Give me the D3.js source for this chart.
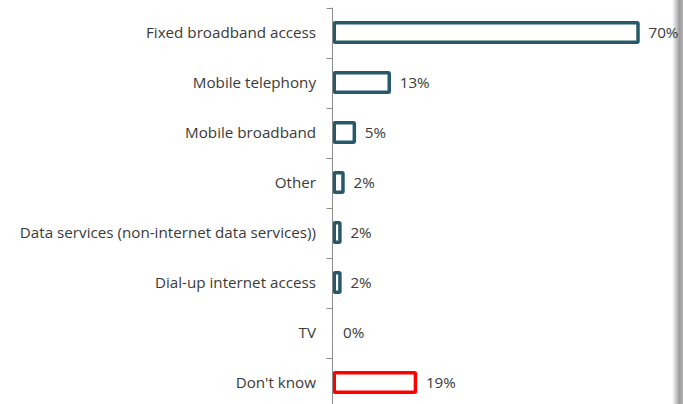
<!DOCTYPE html>
<html>
<head>
<meta charset="utf-8">
<script src="https://cdn.jsdelivr.net/npm/d3@7"></script>
<style>
  html, body { margin: 0; padding: 0; background: #fff; }
  svg { display: block; }
  text { font-family: "Open Sans", sans-serif; fill: #3a3a3a; }
</style>
</head>
<body>
<svg id="chart" width="683" height="404"></svg>
<script>
const categories = [
  "Fixed broadband access",
  "Mobile telephony",
  "Mobile broadband",
  "Other",
  "Data services (non-internet data services))",
  "Dial-up internet access",
  "TV",
  "Don't know"
];
const values = [70, 13, 5, 2.4, 1.7, 1.7, 0, 19];
const valueLabels = ["70%", "13%", "5%", "2%", "2%", "2%", "0%", "19%"];
const barColors = ["#27596A", "#27596A", "#27596A", "#27596A", "#27596A", "#27596A", "#27596A", "#FF0000"];

const W = 683, H = 404;
const axisX = 332.5;
const svg = d3.select("#chart");

const defs = svg.append("defs");
const grad = defs.append("linearGradient").attr("id", "edge").attr("x1", 0).attr("x2", 1).attr("y1", 0).attr("y2", 0);
grad.append("stop").attr("offset", "0%").attr("stop-color", "#fff");
grad.append("stop").attr("offset", "70%").attr("stop-color", "#9a9a9a");
grad.append("stop").attr("offset", "100%").attr("stop-color", "#b5b5b5");

// right edge shadow (beneath the labels)
svg.append("rect").attr("x", 672).attr("y", 0).attr("width", 11).attr("height", H).attr("fill", "url(#edge)");

const x = d3.scaleLinear().domain([0, 70]).range([axisX, axisX + 305.5]);
const yb = d3.scaleBand().domain(categories).range([7.5, 407.5]);

const data = categories.map((c, i) => ({ c, v: values[i], lab: valueLabels[i], col: barColors[i] }));

// bars
svg.append("g").selectAll("rect").data(data.filter(d => d.v > 0)).join("rect")
  .attr("x", x(0) + 1.75)
  .attr("y", d => yb(d.c) + yb.bandwidth() / 2 - 9.75)
  .attr("width", d => Math.max(0.5, x(d.v) - x(0) - 1.75))
  .attr("height", 19.5)
  .attr("fill", "#fff")
  .attr("stroke", d => d.col)
  .attr("stroke-width", 3.5)
  .attr("rx", 1);

// axis
const axis = d3.axisLeft(yb).tickSize(0).tickFormat("");
const gAxis = svg.append("g").attr("transform", `translate(${axisX},0)`).call(axis);
gAxis.select(".domain").attr("stroke", "#8c8c8c").attr("stroke-width", 1).attr("d", `M0,7.5V${H + 10}`);
const bounds = categories.map(c => yb(c));
gAxis.selectAll("line.bt").data(bounds).join("line").attr("class", "bt")
  .attr("x1", -6).attr("x2", 0)
  .attr("y1", d => Math.round(d) + 0.5).attr("y2", d => Math.round(d) + 0.5)
  .attr("stroke", "#8c8c8c");

// category labels
svg.append("g").selectAll("text").data(data).join("text")
  .attr("x", 316)
  .attr("y", d => yb(d.c) + yb.bandwidth() / 2)
  .attr("dy", "0.35em")
  .attr("text-anchor", "end")
  .attr("font-size", 15.2)
  .text(d => d.c);

// value labels
svg.append("g").selectAll("text").data(data).join("text")
  .attr("x", d => x(d.v) + 10.5)
  .attr("y", d => yb(d.c) + yb.bandwidth() / 2)
  .attr("dy", "0.35em")
  .attr("font-size", 15.2)
  .text(d => d.lab);
</script>
</body>
</html>
